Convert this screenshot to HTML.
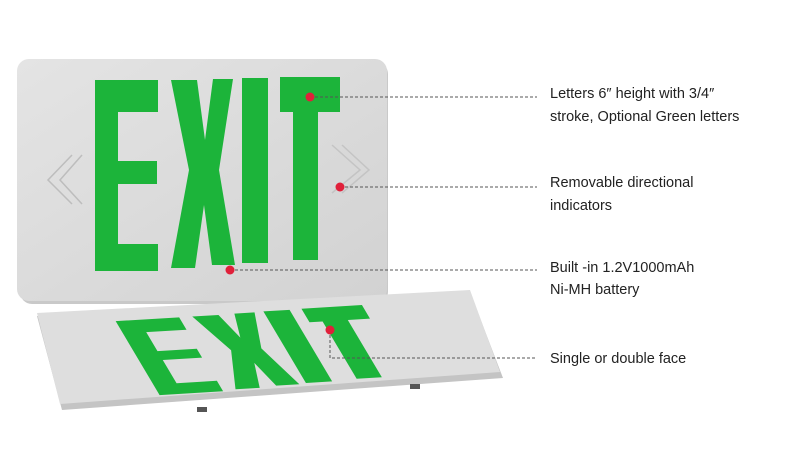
<!DOCTYPE html>
<html><head><meta charset="utf-8"><style>
body{margin:0;background:#fff;width:800px;height:451px;overflow:hidden}
svg{display:block}
text{font-family:"Liberation Sans",sans-serif;font-size:14.5px;fill:#222}
</style></head><body>
<svg width="800" height="451" viewBox="0 0 800 451">
<defs>
<linearGradient id="pg" x1="0" y1="0" x2="1" y2="1"><stop offset="0" stop-color="#e4e4e4"/><stop offset="1" stop-color="#d2d2d2"/></linearGradient>
<g id="letters" fill="#1cb43a">
<path d="M95 80H158V112H118V161H157V184H118V244H158V271H95Z"/>
<path d="M171 80H197L205 140L213 79H233L219 170L235 265H212L204 205L195 268H171L189 170Z"/>
<path d="M242 78H268V263H242Z"/>
<path d="M280 77H340V112H318V260H293V112H280Z"/>
</g>
</defs>
<rect x="20" y="62" width="368" height="242" rx="12" fill="#c9c9c9"/>
<rect x="17" y="59" width="370" height="242" rx="12" fill="url(#pg)"/>
<use href="#letters"/>
<path d="M82 155L60 180L82 204M72 155L48 180L72 204" fill="none" stroke="#bdbdbd" stroke-width="1.5"/>
<path d="M332 145L360 170L332 193M342 145L369 170L342 193" fill="none" stroke="#c4c4c4" stroke-width="1.5"/>
<path d="M37 316L470 292L503 378L62 410Z" fill="#c4c4c4"/>
<path d="M37 313L470 290L500 372L60 404Z" fill="#dedede"/>
<g transform="matrix(1.008,-0.061,0.23,0.387,1.5,296)"><use href="#letters"/></g>
<rect x="197" y="407" width="10" height="5" fill="#555"/>
<rect x="410" y="384" width="10" height="5" fill="#555"/>
<g stroke="#555" stroke-width="1" stroke-dasharray="3,2" fill="none">
<path d="M310 97H537"/><path d="M340 187H537"/><path d="M230 270H537"/><path d="M330 330V358H537"/>
</g>
<g fill="#e0203a"><circle cx="310" cy="97" r="4.5"/><circle cx="340" cy="187" r="4.5"/><circle cx="230" cy="270" r="4.5"/><circle cx="330" cy="330" r="4.5"/></g>
<text x="550" y="98">Letters 6″ height with 3/4″</text>
<text x="550" y="121">stroke, Optional Green letters</text>
<text x="550" y="187">Removable directional</text>
<text x="550" y="210">indicators</text>
<text x="550" y="272">Built -in 1.2V1000mAh</text>
<text x="550" y="294">Ni-MH battery</text>
<text x="550" y="363">Single or double face</text>
</svg>
</body></html>
